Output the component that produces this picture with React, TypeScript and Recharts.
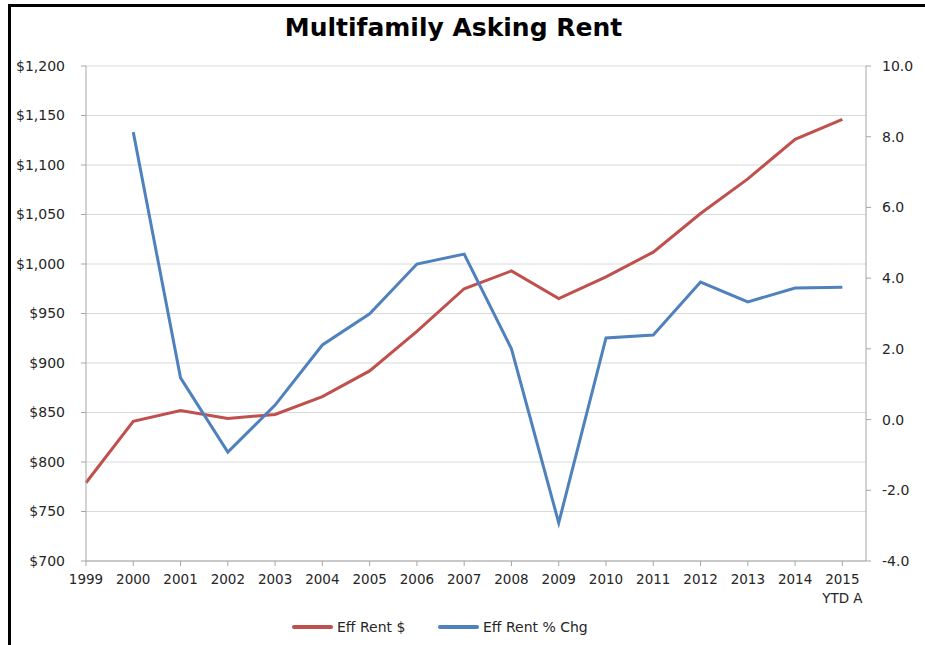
import React from 'react';
import { LineChart, Line, XAxis, YAxis, CartesianGrid } from 'recharts';

const years = [1999, 2000, 2001, 2002, 2003, 2004, 2005, 2006, 2007, 2008, 2009, 2010, 2011, 2012, 2013, 2014, 2015];
const effRent = [779, 841, 852, 844, 848, 866, 892, 932, 975, 993, 965, 987, 1012, 1051, 1086, 1126, 1146];
const effRentPctChg = [null, 8.13, 1.18, -0.92, 0.41, 2.11, 2.99, 4.4, 4.68, 2.0, -2.92, 2.31, 2.39, 3.89, 3.33, 3.72, 3.74];
const leftTicks = [700, 750, 800, 850, 900, 950, 1000, 1050, 1100, 1150, 1200];
const rightTicks = [-4, -2, 0, 2, 4, 6, 8, 10];
const tickNotes: Record<number, string> = { 2015: 'YTD A' };

const RED = '#c0504d';
const BLUE = '#4f81bd';
const FONT = '"DejaVu Sans", Verdana, sans-serif';
const AXIS = '#a6a6a6';

const data = years.map((year, i) => ({
  year,
  rent: effRent[i],
  pct: effRentPctChg[i],
}));

const fmtDollar = (v: number) => '$' + v.toLocaleString('en-US');

// year label, with a second line where the reference has one
const YearTick = ({ x, y, payload }: any) => {
  const note = tickNotes[payload.value];
  return (
    <text x={x} y={y} textAnchor="middle" fill="#262626" fontSize={13.5} fontFamily={FONT}>
      <tspan x={x} dy="0.8em">{payload.value}</tspan>
      {note && <tspan x={x} dy="1.4em">{note}</tspan>}
    </text>
  );
};

const LegendItem = ({ color, label, left }: { color: string; label: string; left: number }) => (
  <div style={{ position: 'absolute', left, top: 0, display: 'flex', alignItems: 'center', whiteSpace: 'nowrap' }}>
    <div style={{ width: 41, height: 4, background: color, borderRadius: 2, marginRight: 4 }} />
    <span>{label}</span>
  </div>
);

export default function App() {
  return (
    <div style={{ position: 'absolute', left: 0, top: 0, width: 925, height: 645, background: '#fff', overflow: 'hidden' }}>
      <div style={{ position: 'absolute', left: 8, top: 4, width: 940, height: 660, border: '3px solid #000', boxSizing: 'border-box' }} />
      <div style={{ position: 'absolute', left: 0, top: 13, width: 907, textAlign: 'center', fontFamily: FONT, fontWeight: 'bold', fontSize: 25, color: '#000' }}>
        Multifamily Asking Rent
      </div>
      <div style={{ position: 'absolute', left: 0, top: 0 }}>
        <LineChart width={925} height={645} data={data} margin={{ top: 66, right: 0, bottom: 34, left: 0 }}>
          <CartesianGrid yAxisId="left" vertical={false} stroke="#d9d9d9" strokeWidth={1} />
          <XAxis
            dataKey="year"
            type="number"
            domain={[1999, 2015.5]}
            ticks={years}
            interval={0}
            height={50}
            stroke={AXIS}
            tickSize={5}
            tickMargin={7}
            tick={<YearTick />}
          />
          <YAxis
            yAxisId="left"
            domain={[700, 1200]}
            ticks={leftTicks}
            width={86}
            stroke={AXIS}
            tickSize={5}
            tickMargin={16}
            tickFormatter={fmtDollar}
            tick={{ fill: '#262626', fontSize: 14, fontFamily: FONT }}
          />
          <YAxis
            yAxisId="right"
            orientation="right"
            domain={[-4, 10]}
            ticks={rightTicks}
            width={59}
            stroke={AXIS}
            tickSize={5}
            tickMargin={11}
            tickFormatter={(v: number) => v.toFixed(1)}
            tick={{ fill: '#262626', fontSize: 14, fontFamily: FONT }}
          />
          <Line yAxisId="left" dataKey="rent" stroke={RED} strokeWidth={3} dot={false} isAnimationActive={false} />
          <Line yAxisId="right" dataKey="pct" stroke={BLUE} strokeWidth={3} dot={false} connectNulls={false} isAnimationActive={false} />
        </LineChart>
      </div>
      <div style={{ position: 'absolute', left: 0, top: 619, width: 925, height: 20, fontFamily: FONT, fontSize: 14, color: '#262626' }}>
        <LegendItem color={RED} label="Eff Rent $" left={292} />
        <LegendItem color={BLUE} label="Eff Rent % Chg" left={438} />
      </div>
    </div>
  );
}
